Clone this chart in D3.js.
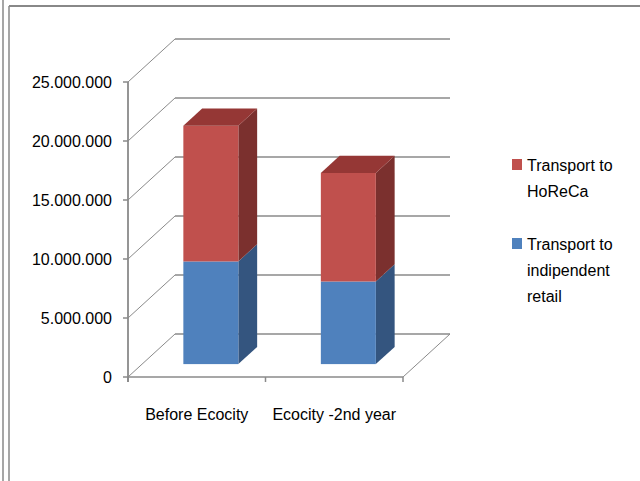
<!DOCTYPE html>
<html><head><meta charset="utf-8">
<script src="https://cdn.jsdelivr.net/npm/d3@7"></script>
<style>html,body{margin:0;padding:0;background:#fff;}svg{display:block;}</style>
</head><body>
<svg id="chart" width="640" height="481"></svg>
<script>
const categories = ["Before Ecocity", "Ecocity -2nd year"];
const retailValues = [8700000, 7000000];
const horecaValues = [11500000, 9200000];
const yTicks = [0, 5000000, 10000000, 15000000, 20000000, 25000000];
const seriesNames = ["Transport to independent retail", "Transport to HoReCa"];
const legendLines = [["Transport to", "HoReCa"], ["Transport to", "indipendent", "retail"]];

const svg = d3.select("#chart");
const font = "'Liberation Sans', Arial, sans-serif";
const gridColor = "#8a8a8a";

// outer frame lines
svg.append("line").attr("x1",3).attr("x2",3).attr("y1",0).attr("y2",481).attr("stroke","#888").attr("stroke-width",1.5);
svg.append("line").attr("x1",9).attr("x2",9).attr("y1",6).attr("y2",481).attr("stroke","#888").attr("stroke-width",1.5);
svg.append("line").attr("x1",9).attr("x2",640).attr("y1",6).attr("y2",6).attr("stroke","#888").attr("stroke-width",2);

const y = d3.scaleLinear().domain([0, 25000000]).range([377, 82]);
const x = d3.scaleBand().domain(categories).range([128, 403]).paddingInner(0.6).paddingOuter(0.3);
const depth = {dx: 47, dy: -43};
const off = d => [d*depth.dx, d*depth.dy];

const loc = d3.formatLocale({decimal: ",", thousands: ".", grouping: [3], currency: ["", ""]});
const fmt = loc.format(",");

const g = svg.append("g");
// back wall gridlines and side wall diagonals
yTicks.forEach(t => {
  const yy = y(t);
  g.append("line").attr("x1", 128 + depth.dx).attr("x2", 403 + depth.dx)
    .attr("y1", yy + depth.dy).attr("y2", yy + depth.dy)
    .attr("stroke", gridColor).attr("stroke-width", 1.3);
  g.append("line").attr("x1", 128).attr("x2", 128 + depth.dx)
    .attr("y1", yy).attr("y2", yy + depth.dy)
    .attr("stroke", gridColor).attr("stroke-width", 1);
});
// floor
g.append("path").attr("d", `M403,${y(0)}L${403+depth.dx},${y(0)+depth.dy}`).attr("stroke", gridColor).attr("fill","none");
g.append("line").attr("x1",128).attr("x2",403).attr("y1",y(0)).attr("y2",y(0)).attr("stroke",gridColor).attr("stroke-width",1.5);
// y axis line
g.append("line").attr("x1",128).attr("x2",128).attr("y1",y(25000000)).attr("y2",y(0)+5).attr("stroke",gridColor).attr("stroke-width",1.8);
// y ticks & labels
yTicks.forEach(t => {
  g.append("line").attr("x1",123).attr("x2",128).attr("y1",y(t)).attr("y2",y(t)).attr("stroke",gridColor).attr("stroke-width",1.5);
  g.append("text").attr("x",112).attr("y",y(t)+6).attr("text-anchor","end")
    .attr("font-family",font).attr("font-size",16).attr("fill","#000").text(fmt(t));
});
// category ticks
const catTicks = [128, ...categories.map(c => x(c) - x.step()*x.paddingInner()/2 + x.step())];
[128, 128 + x.step(), 128 + 2*x.step()].forEach(tx => {
  g.append("line").attr("x1",tx).attr("x2",tx).attr("y1",y(0)).attr("y2",y(0)+5).attr("stroke",gridColor).attr("stroke-width",1.5);
});
categories.forEach(c => {
  g.append("text").attr("x", x(c) + x.bandwidth()/2).attr("y", 420).attr("text-anchor","middle")
    .attr("font-family",font).attr("font-size",16).attr("fill","#000").text(c);
});

// bars
const d0 = 0.3, d1 = 0.7;
const colors = [
  {front:"#4F81BD", side:"#34557F", top:"#3E6595"},
  {front:"#C0504D", side:"#7B302E", top:"#953735"}
];
const stackData = categories.map((c,i) => ({cat:c, vals:[retailValues[i], horecaValues[i]]}));
stackData.forEach(d => {
  let base = 0;
  d.vals.forEach((v, si) => {
    const top = base + v;
    const [ox0, oy0] = off(d0);
    const [ox1, oy1] = off(d1);
    const xl = x(d.cat) + ox0, xr = x(d.cat) + x.bandwidth() + ox0;
    const yb = y(base) + oy0, yt = y(top) + oy0;
    const ddx = ox1 - ox0, ddy = oy1 - oy0;
    // side
    g.append("path").attr("d", `M${xr},${yb}L${xr+ddx},${yb+ddy}L${xr+ddx},${yt+ddy}L${xr},${yt}Z`)
      .attr("fill", colors[si].side);
    // front
    g.append("rect").attr("x", xl).attr("y", yt).attr("width", xr - xl).attr("height", yb - yt)
      .attr("fill", colors[si].front);
    if (si === d.vals.length - 1) {
      g.append("path").attr("d", `M${xl},${yt}L${xr},${yt}L${xr+ddx},${yt+ddy}L${xl+ddx},${yt+ddy}Z`)
        .attr("fill", colors[si].top);
    }
    base = top;
  });
});

// legend
const legendY = [159, 238];
const legendColors = [colors[1].front, colors[0].front];
legendLines.forEach((lines, i) => {
  g.append("rect").attr("x",512).attr("y",legendY[i]).attr("width",10).attr("height",11).attr("fill",legendColors[i]);
  lines.forEach((ln, j) => {
    g.append("text").attr("x",527).attr("y",legendY[i] + 12 + j*26)
      .attr("font-family",font).attr("font-size",16).attr("fill","#000").text(ln);
  });
});
</script>
</body></html>
